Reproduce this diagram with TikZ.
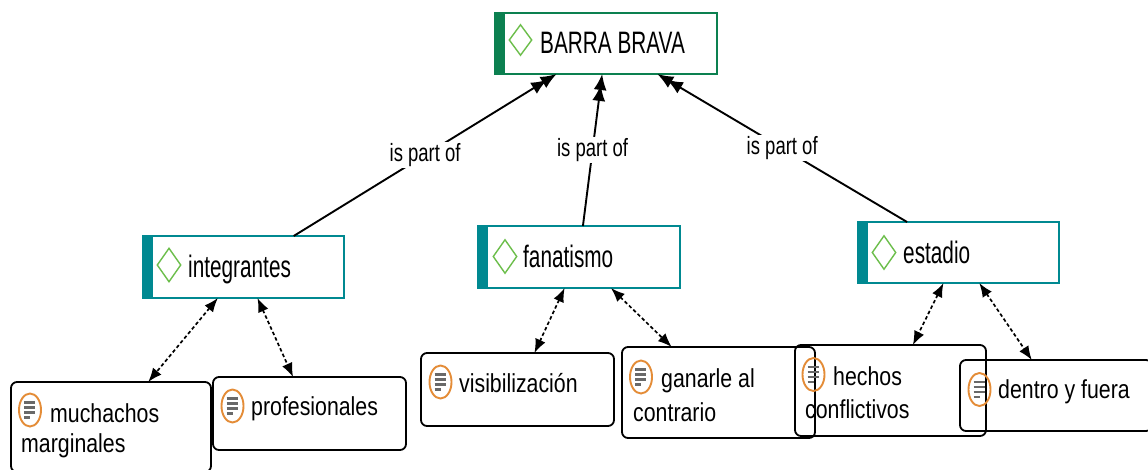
\documentclass[tikz,border=0pt]{standalone}
\usepackage{fontspec}
\usetikzlibrary{arrows.meta,shapes.geometric}
\newfontfamily\cfont[FakeStretch=0.67]{Liberation Sans}
\newfontfamily\qfont[FakeStretch=0.82]{Liberation Sans}
\newfontfamily\lfont[FakeStretch=0.74]{Liberation Sans}
\definecolor{bgreen}{RGB}{12,128,80}
\definecolor{cteal}{RGB}{0,137,145}
\definecolor{dgreen}{RGB}{108,190,75}
\definecolor{qorange}{RGB}{228,140,55}
\definecolor{qgray}{RGB}{105,105,105}
\definecolor{ink}{RGB}{0,0,0}
\tikzset{
  concept/.style={rectangle, draw=#1, fill=white, line width=1.5pt, inner sep=0pt, outer sep=0pt,
    path picture={\fill[#1] (path picture bounding box.north west) rectangle ([xshift=10pt]path picture bounding box.south west);}},
  quote/.style={rectangle, draw=black, rounded corners=6pt, line width=1.8pt, inner sep=0pt, outer sep=0pt},
  cicon/.style={diamond, draw=dgreen, line width=1.4pt, inner sep=0pt, minimum width=24pt, minimum height=34pt},
  qicon/.style={ellipse, draw=qorange, line width=1.9pt, inner sep=0pt, minimum width=22pt, minimum height=33pt,
    path picture={
      \foreach \yy/\xe in {7.5/5,2.5/5,-2.5/5,-7.5/0}{
        \draw[qgray, line width=2.2pt] ([xshift=-6pt,yshift=\yy pt]path picture bounding box.center) -- ([xshift=\xe pt,yshift=\yy pt]path picture bounding box.center);}
    }},
  ctext/.style={anchor=base west, inner sep=0pt, text=ink, font={\cfont\fontsize{31pt}{36pt}\selectfont}},
  qtext/.style={anchor=base west, inner sep=0pt, text=ink, font={\qfont\fontsize{26pt}{30pt}\selectfont}},
  lbl/.style={fill=white, inner sep=1pt, text=ink, font={\lfont\fontsize{25pt}{28pt}\selectfont}},
  partof/.style={draw=black, line width=1.9pt, -{Latex[length=16pt,width=13pt,sep=-5pt]Latex[length=16pt,width=13pt]}},
  assoc/.style={draw=black, line width=1.7pt, dash pattern=on 3.5pt off 2.5pt,
    {Latex[length=14pt,width=11pt]}-{Latex[length=14pt,width=11pt]}}
}
\begin{document}
\begin{tikzpicture}[x=1pt,y=-1pt]
\useasboundingbox (0,0) rectangle (1148,469);
\clip (0,0) rectangle (1148,469);
\fill[white] (0,0) rectangle (1148,469);

% concept boxes
\node[concept=bgreen, minimum width=222pt, minimum height=61pt] (barra) at (606,43.5) {};
\node[concept=cteal, minimum width=201pt, minimum height=62pt] (intg) at (243.5,267) {};
\node[concept=cteal, minimum width=202pt, minimum height=62pt] (fana) at (579,257) {};
\node[concept=cteal, minimum width=201pt, minimum height=61pt] (estad) at (958.5,252.5) {};

\node[cicon, minimum width=23pt, minimum height=31pt] (dbarra) at (520.5,40) {};
\node[cicon] (dintg) at (169,265) {};
\node[cicon] (dfana) at (505,256.5) {};
\node[cicon] (destad) at (884,252.5) {};

\node[ctext] (tbarra) at (540,53.5) {BARRA BRAVA};
\node[ctext] (tintg) at (188,277) {integrantes};
\node[ctext] (tfana) at (523,267) {fanatismo};
\node[ctext] (testad) at (903,263) {estadio};

% quotation boxes
\node[quote, minimum width=200pt, minimum height=90pt] (much) at (111,427) {};
\node[quote, minimum width=193pt, minimum height=73pt] (prof) at (309.5,413.5) {};
\node[quote, minimum width=193pt, minimum height=73pt] (visib) at (517.5,389.5) {};
\node[quote, minimum width=191pt, minimum height=91pt] (hech) at (890.5,390.5) {};
\node[quote, minimum width=193pt, minimum height=91pt] (ganar) at (718.5,392.5) {};
\node[quote, minimum width=192pt, minimum height=71pt] (dentro) at (1056,395.5) {};

\node[qicon] (imuch) at (30,410) {};
\node[qicon] (iprof) at (232.5,406) {};
\node[qicon] (ivisib) at (440.5,382) {};
\node[qicon] (iganar) at (641,377) {};
\node[qicon] (ihech) at (813.5,374.5) {};
\node[qicon] (identro) at (979.5,389.5) {};

\node[qtext] (tmuch) at (21,422) {\vtop{\baselineskip=30pt\hbox{\hskip29pt muchachos}\hbox{marginales}}};
\node[qtext] (tprof) at (251,415) {profesionales};
\node[qtext] (tvisib) at (459,392) {visibilización};
\node[qtext] (tganar) at (633,387) {\vtop{\baselineskip=34pt\hbox{\hskip28pt ganarle al}\hbox{contrario}}};
\node[qtext] (thech) at (805,385) {\vtop{\baselineskip=33pt\hbox{\hskip28pt hechos}\hbox{conflictivos}}};
\node[qtext] (tdentro) at (998,398) {dentro y fuera};

% connectors
\draw[partof] (intg) -- node[lbl] (l1) {is part of} (barra);
\draw[partof] (fana) -- node[lbl] (l2) {is part of} (barra);
\draw[partof] (estad) -- node[lbl] (l3) {is part of} (barra);

\draw[assoc] (intg) -- (much);
\draw[assoc] (intg) -- (prof);
\draw[assoc] (fana) -- (visib);
\draw[assoc] (fana) -- (ganar);
\draw[assoc] (estad) -- (hech);
\draw[assoc] (estad) -- (dentro);
\end{tikzpicture}
\end{document}
